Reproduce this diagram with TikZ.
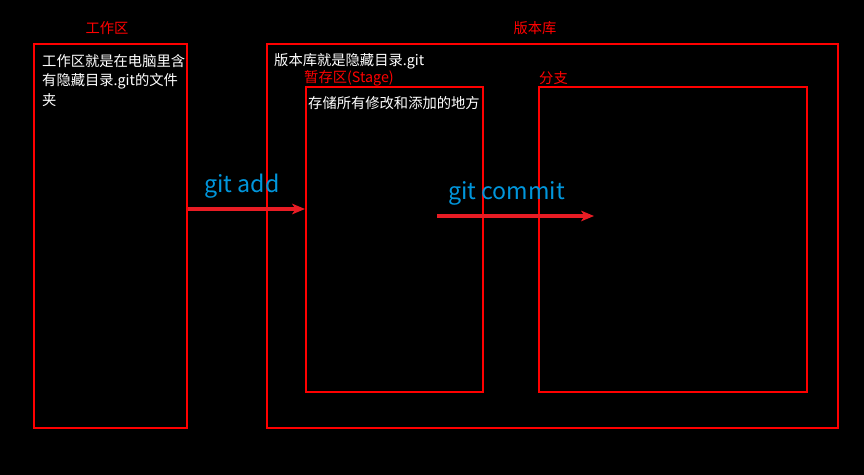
\documentclass[tikz,border=0pt]{standalone}
\usepackage{fontspec}
\setmainfont{Noto Sans CJK SC}
\usepackage{tikz}
\usetikzlibrary{positioning, fit, arrows.meta}
\usepackage{xcolor}
\definecolor{boxred}{RGB}{255,0,0}
\definecolor{arrowred}{RGB}{232,28,36}
\definecolor{cmdblue}{RGB}{0,150,220}

\begin{document}
\begin{tikzpicture}[x=0.03cm, y=-0.03cm,
    frame/.style={draw=boxred, line width=1.7pt, inner sep=0pt},
    redlabel/.style={text=boxred, inner sep=0pt, font=\fontsize{12.2}{14}\selectfont},
    whitetext/.style={text=white, inner sep=0pt, align=left, font=\fontsize{12.2}{16.8}\selectfont},
    cmdlabel/.style={text=cmdblue, inner sep=0pt, font=\fontsize{19.8}{22}\selectfont},
    flow/.style={draw=arrowred, line width=2.8pt, -{Stealth[length=11pt,width=9pt,inset=3pt]}}]
    % background and margins
    \fill[black] (0,0) rectangle (864,475);
    \useasboundingbox (0,0) rectangle (864,475);

    % boxes
    \node[frame, fit={(34,44) (187,428)}] (workspace) {};
    \node[frame, fit={(267,44) (838,428)}] (repo) {};
    \node[frame, fit={(306,87) (483,392)}] (stage) {};
    \node[frame, fit={(539,87) (807,392)}] (branch) {};

    % titles above the boxes
    \node[redlabel] (worktitle) at (107,28) {工作区};
    \node[redlabel] (repotitle) at (535,28) {版本库};
    \node[redlabel, anchor=west] (stagetitle) at (304,78) {暂存区(Stage)};
    \node[redlabel, anchor=west] (branchtitle) at (539,78) {分支};

    % texts inside the boxes
    \node[whitetext, anchor=north west] (worknote) at (42,54) {工作区就是在电脑里含\\有隐藏目录.git的文件\\夹};
    \node[whitetext, anchor=west] (reponote) at (274,61) {版本库就是隐藏目录.git};
    \node[whitetext, anchor=west] (stagenote) at (308,103) {存储所有修改和添加的地方};

    % commands
    \node[cmdlabel, anchor=west] (addcmd) at (204,186) {git add};
    \node[cmdlabel, anchor=west] (commitcmd) at (448,193) {git commit};

    % arrows
    \coordinate (addlevel) at (0,209);
    \draw[flow] (workspace.east |- addlevel) -- (stage.west |- addlevel);
    \coordinate (commitstart) at (437,216);
    \coordinate (commitend) at (594,216);
    \draw[flow] (commitstart) -- (commitend);
\end{tikzpicture}
\end{document}
